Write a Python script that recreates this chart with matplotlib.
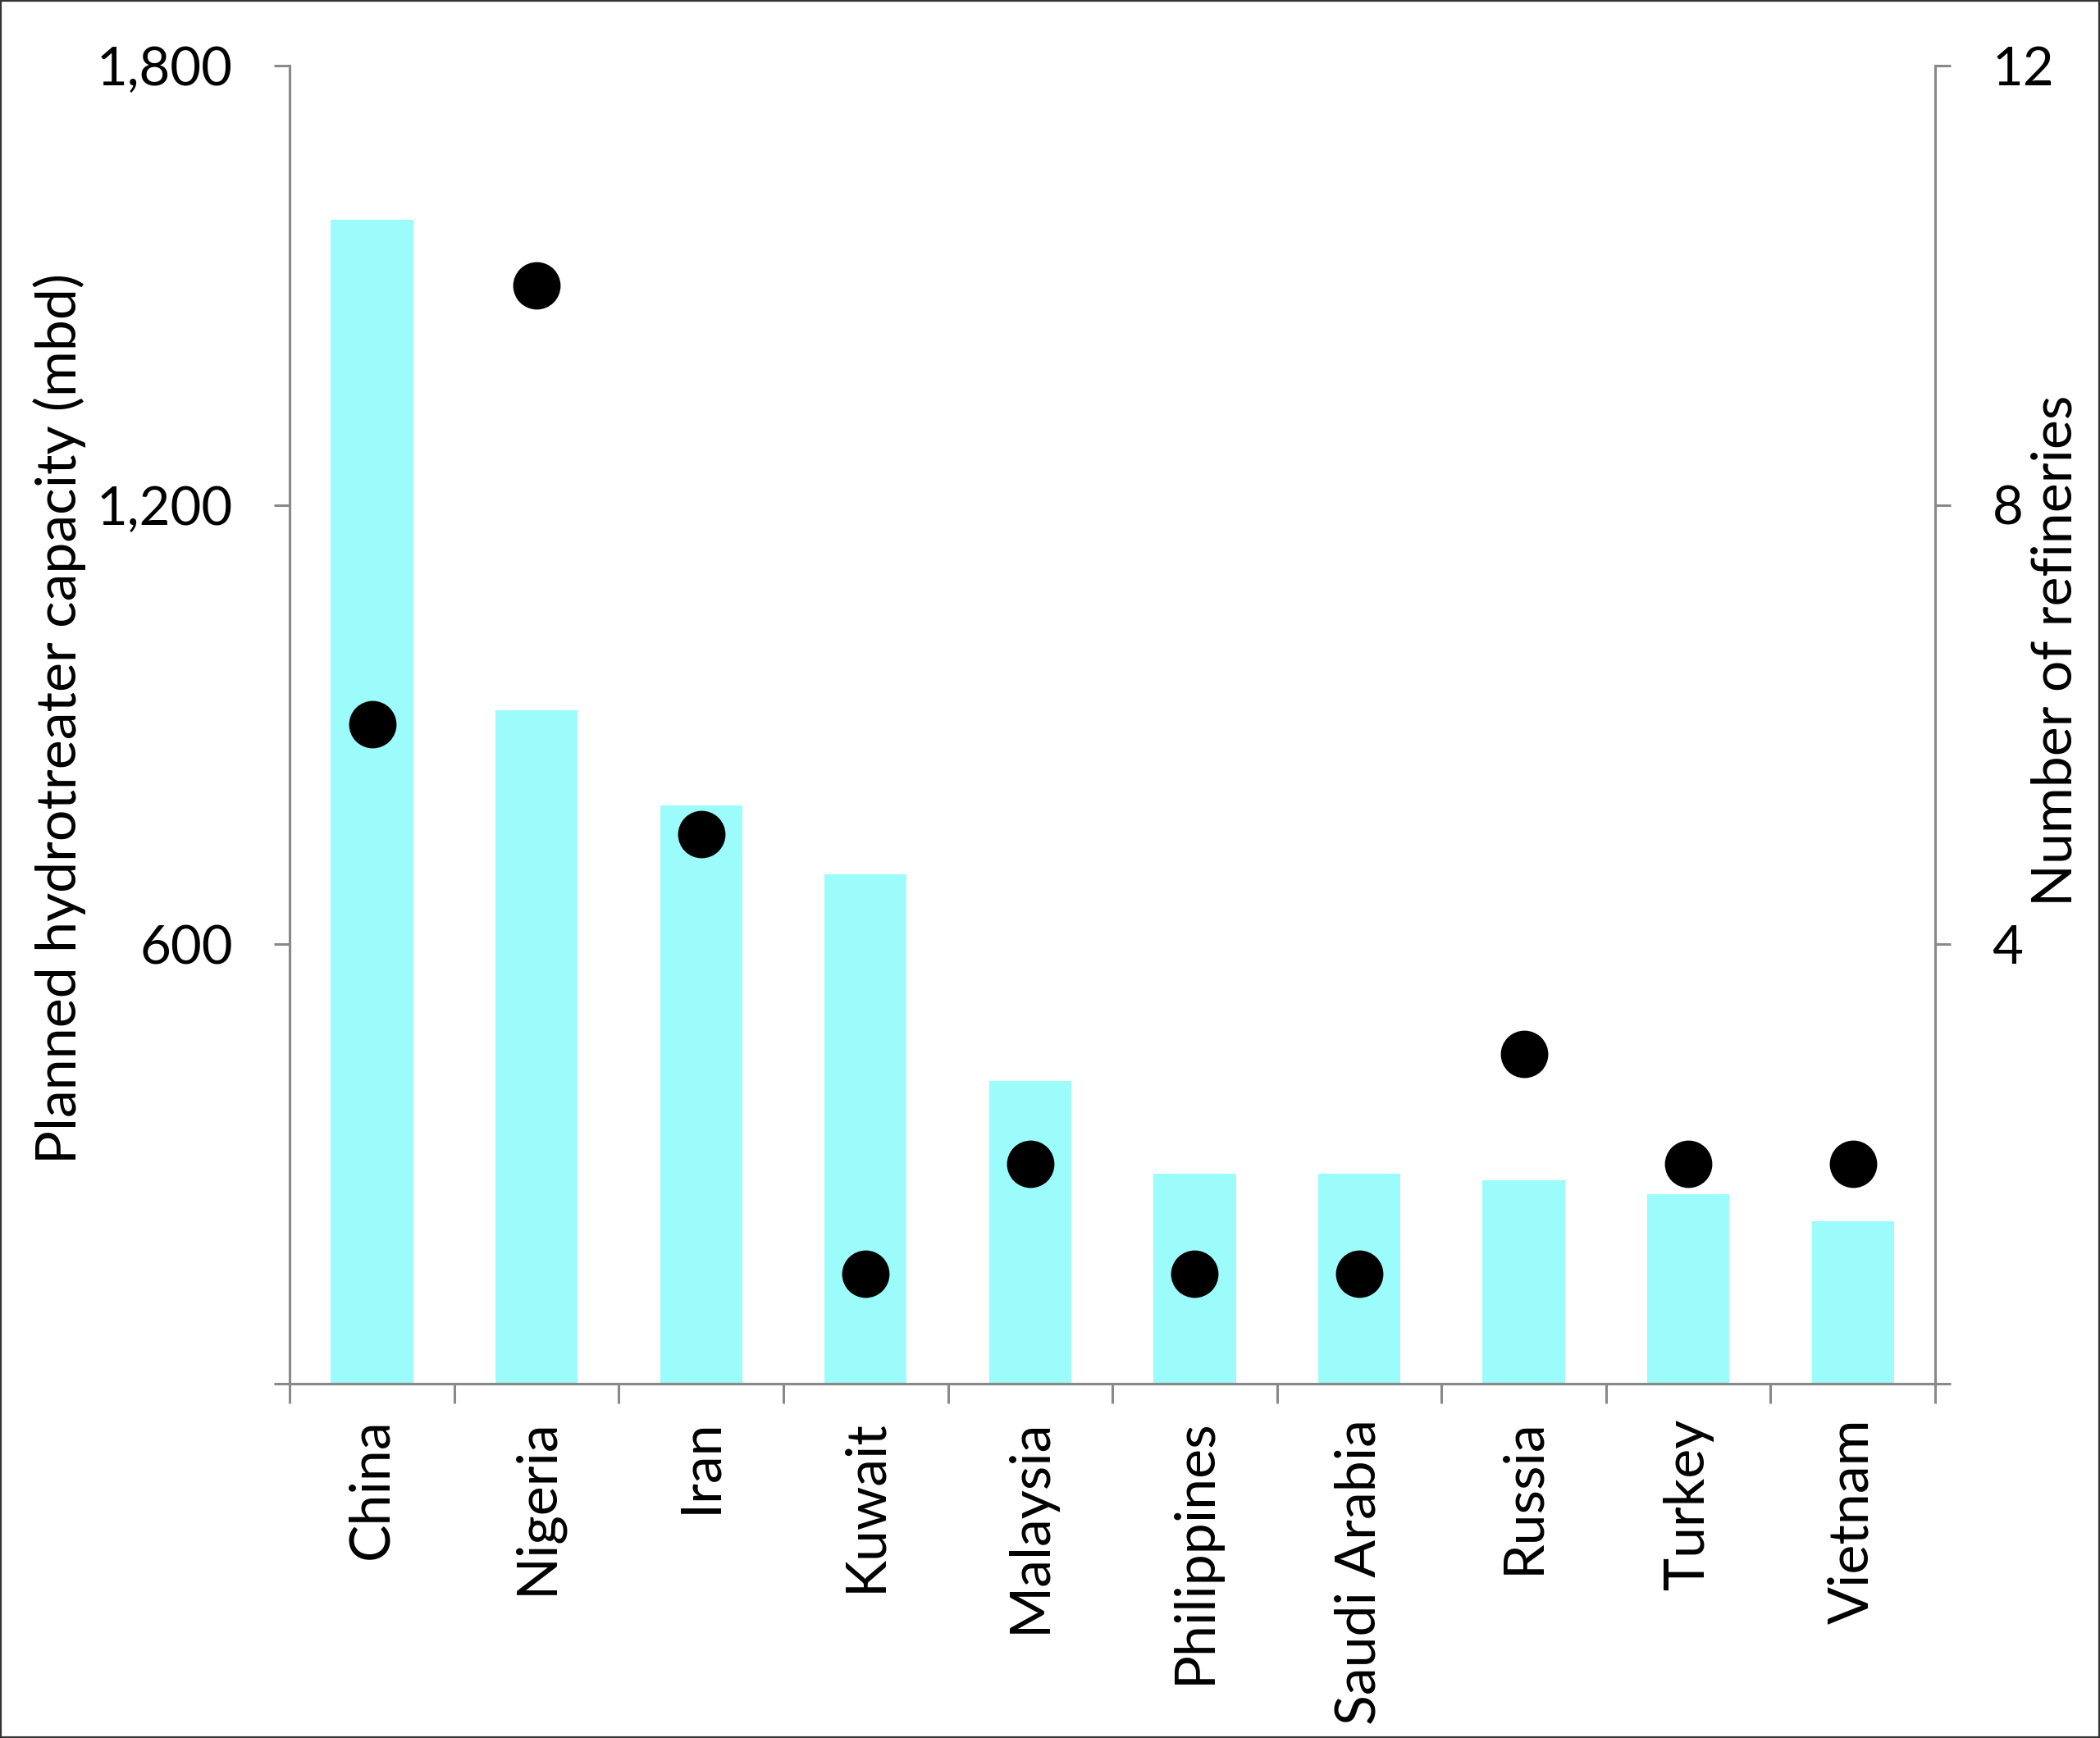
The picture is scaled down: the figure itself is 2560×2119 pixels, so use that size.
import numpy as np
import matplotlib.pyplot as plt
from matplotlib.ticker import FuncFormatter, FixedLocator
from matplotlib.patches import Rectangle

plt.rcParams['font.family'] = ['Lato', 'DejaVu Sans']

countries = ['China', 'Nigeria', 'Iran', 'Kuwait', 'Malaysia', 'Philippines',
             'Saudi Arabia', 'Russia', 'Turkey', 'Vietnam']
capacity = [1590, 920, 790, 695, 413, 287, 287, 278, 258, 221]
refineries = [6, 10, 5, 1, 2, 1, 1, 3, 2, 2]

bar_color = '#9cfbfb'
axis_grey = '#898989'

fig = plt.figure(figsize=(25.6, 21.19), dpi=100)
ax = fig.add_axes([0.138, 0.204, 0.7835, 0.7582])
ax2 = ax.twinx()

x = np.arange(len(countries))
ax.bar(x, capacity, width=0.5, color=bar_color, zorder=1)
ax2.scatter(x, refineries, s=1650, color='black', zorder=3)

ax.set_xlim(-0.5, len(countries) - 0.5)
ax.set_ylim(0, 1800)
ax2.set_ylim(0, 12)
ax.set_yticks([0, 600, 1200, 1800])
ax2.set_yticks([0, 4, 8, 12])
ax.yaxis.set_major_formatter(FuncFormatter(lambda v, p: '' if v == 0 else f'{int(v):,}'))
ax2.yaxis.set_major_formatter(FuncFormatter(lambda v, p: '' if v == 0 else f'{int(v)}'))

ax.set_xticks(x)
ax.set_xticklabels(countries, rotation=90, va='top', ha='center')
ax.xaxis.set_minor_locator(FixedLocator(np.arange(-0.5, len(countries), 1.0)))
ax.tick_params(axis='x', which='major', length=0, pad=31, labelsize=49)
ax.tick_params(axis='x', which='minor', length=17, width=2.2, color=axis_grey)
ax.tick_params(axis='y', length=14, width=2.2, color=axis_grey, pad=36, labelsize=47)
ax2.tick_params(axis='y', length=14, width=2.2, color=axis_grey, pad=36, labelsize=47)

for a in (ax, ax2):
    a.spines['top'].set_visible(False)
    for s in ('left', 'right', 'bottom'):
        a.spines[s].set_color(axis_grey)
        a.spines[s].set_linewidth(2.2)

ax.set_ylabel('Planned hydrotreater capacity (mbd)', fontsize=49, va='center')
ax.yaxis.set_label_coords(-0.1397, 0.5045)
ax2.set_ylabel('Number of refineries', fontsize=49, va='center')
ax2.yaxis.set_label_coords(1.0733, 0.556)

fig.patches.append(Rectangle((0, 0), 1, 1, transform=fig.transFigure,
                             fill=False, edgecolor='#333333', linewidth=3))

fig.savefig('out.png', dpi=100)
